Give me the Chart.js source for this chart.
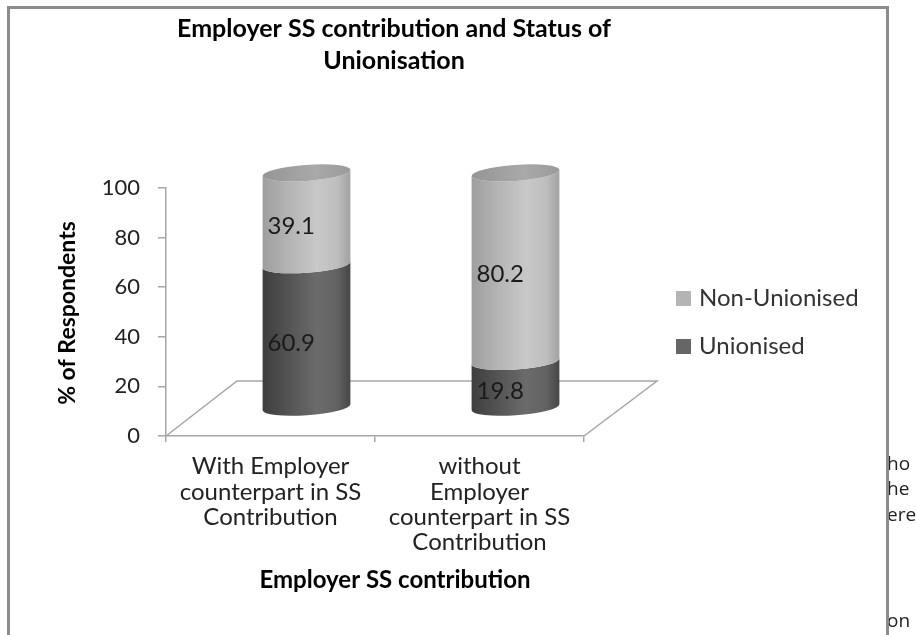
<!DOCTYPE html>
<html>
<head>
<meta charset="utf-8">
<script src="https://cdn.jsdelivr.net/npm/chart.js@4.4.0/dist/chart.umd.min.js"></script>
<style>
  body { margin: 0; background: #fff; }
  #mycanvas { display: block; }
</style>
</head>
<body>
<canvas id="mycanvas" width="916" height="635"></canvas>
<script>
// chart data
var categories = [
  ['With Employer', 'counterpart in SS', 'Contribution'],
  ['without', 'Employer', 'counterpart in SS', 'Contribution']
];
var seriesNames = ['Unionised', 'Non-Unionised'];
var unionised = [60.9, 19.8];
var nonUnionised = [39.1, 80.2];
var yTicks = [0, 20, 40, 60, 80, 100];

var chartTitle = ['Employer SS contribution and Status of', 'Unionisation'];
var xTitle = 'Employer SS contribution';
var yTitle = '% of Respondents';
var pageText = ['ho', 'he', 'ere', 'on'];

// look of the cylinders
var shades = [
  ['#3e3e3e', '#545454', '#6b6b6b', '#626262', '#464646'],
  ['#9e9e9e', '#b4b4b4', '#c8c8c8', '#bebebe', '#a2a2a2']
];
var swatch = ['#666666', '#b4b4b4'];
var FONT = 'Lato, "Open Sans", sans-serif';
var ROT = -0.07;

function cylinder(ctx, cx, yTop, yBot, r, ry, cols, cap) {
  var g = ctx.createLinearGradient(cx - r, 0, cx + r, 0);
  g.addColorStop(0, cols[0]);
  g.addColorStop(0.3, cols[1]);
  g.addColorStop(0.62, cols[2]);
  g.addColorStop(0.85, cols[3]);
  g.addColorStop(1, cols[4]);
  ctx.beginPath();
  ctx.ellipse(cx, yBot, r, ry, ROT, Math.PI, 0, true);
  ctx.ellipse(cx, yTop, r, ry, ROT, 0, Math.PI, false);
  ctx.closePath();
  ctx.fillStyle = g;
  ctx.fill();
  if (cap) {
    var c = ctx.createLinearGradient(cx - r, 0, cx + r, 0);
    c.addColorStop(0, '#959595');
    c.addColorStop(0.6, '#a9a9a9');
    c.addColorStop(1, '#9a9a9a');
    ctx.beginPath();
    ctx.ellipse(cx, yTop, r, ry, ROT, 0, Math.PI * 2);
    ctx.fillStyle = c;
    ctx.fill();
  }
}

var cylinders = {
  id: 'cylinders',
  beforeDraw: function(chart) {
    var ctx = chart.ctx, a = chart.chartArea;
    ctx.save();
    ctx.fillStyle = '#fff';
    ctx.fillRect(0, 0, chart.width, chart.height);
    // floor of the 3d plot
    ctx.strokeStyle = '#a6a6a6';
    ctx.lineWidth = 1.5;
    ctx.beginPath();
    ctx.moveTo(a.left, a.bottom);
    ctx.lineTo(a.left + 71, a.bottom - 55);
    ctx.lineTo(a.right + 73, a.bottom - 55);
    ctx.lineTo(a.right, a.bottom);
    ctx.stroke();
    ctx.restore();
  },
  afterDatasetsDraw: function(chart) {
    var ctx = chart.ctx;
    var ys = chart.scales.y;
    var zero = ys.getPixelForValue(0);
    function y3d(p) { return zero - 28 + (p - zero) * 0.948; }
    ctx.save();
    var n = chart.data.datasets.length;
    for (var d = 0; d < n; d++) {
      var meta = chart.getDatasetMeta(d);
      meta.data.forEach(function(bar, i) {
        var cx = bar.x + 36;
        cylinder(ctx, cx, y3d(bar.y), y3d(bar.base), 44, 8, shades[d], d === n - 1);
      });
    }
    ctx.font = '24px ' + FONT;
    ctx.fillStyle = '#1a1a1a';
    ctx.textAlign = 'left';
    ctx.textBaseline = 'middle';
    for (var d = 0; d < n; d++) {
      var meta = chart.getDatasetMeta(d);
      meta.data.forEach(function(bar, i) {
        var cx = bar.x + 36;
        var mid = y3d((bar.y + bar.base) / 2) + 7;
        ctx.fillText(String(chart.data.datasets[d].data[i]), cx - 39, mid);
      });
    }
    ctx.restore();
  },
  afterDraw: function(chart) {
    var ctx = chart.ctx;
    ctx.save();
    ctx.fillStyle = '#000';
    ctx.textAlign = 'center';
    ctx.textBaseline = 'middle';
    ctx.font = 'bold 25px ' + FONT;
    ctx.fillText(chartTitle[0], 394, 29);
    ctx.fillText(chartTitle[1], 394, 61);

    ctx.font = 'bold 24px ' + FONT;
    ctx.fillText(xTitle, 395, 580);
    ctx.font = 'bold 23px ' + FONT;
    ctx.save();
    ctx.translate(68, 313);
    ctx.rotate(-Math.PI / 2);
    ctx.fillText(yTitle, 0, 0);
    ctx.restore();

    // legend
    ctx.font = '24px ' + FONT;
    ctx.textAlign = 'left';
    var ly = 298;
    for (var k = seriesNames.length - 1; k >= 0; k--) {
      ctx.fillStyle = swatch[k];
      ctx.fillRect(676, ly - 7, 15, 15);
      ctx.fillStyle = '#333';
      ctx.fillText(seriesNames[k], 699, ly);
      ly += 48;
    }

    // bits of the page text behind the chart
    ctx.font = '19px "Open Sans", sans-serif';
    ctx.fillStyle = '#222';
    var py = [465, 490, 516, 622];
    pageText.forEach(function(t, k) { ctx.fillText(t, 887, py[k]); });
    ctx.fillStyle = '#fff';
    ctx.fillRect(880, 0, 8, 635);

    // chart frame
    ctx.strokeStyle = '#8c8c8c';
    ctx.lineWidth = 3;
    ctx.beginPath();
    ctx.moveTo(8.5, 640);
    ctx.lineTo(8.5, 7.5);
    ctx.lineTo(887.5, 7.5);
    ctx.lineTo(887.5, 640);
    ctx.stroke();
    ctx.restore();
  }
};

var ctx = document.getElementById('mycanvas');
var chart = new Chart(ctx, {
  type: 'bar',
  data: {
    labels: categories,
    datasets: [
      { label: seriesNames[0], data: unionised, backgroundColor: 'rgba(0,0,0,0)' },
      { label: seriesNames[1], data: nonUnionised, backgroundColor: 'rgba(0,0,0,0)' }
    ]
  },
  options: {
    responsive: false,
    animation: false,
    layout: { padding: { top: 188, right: 332, left: 0, bottom: 0 } },
    plugins: { legend: { display: false }, title: { display: false }, tooltip: { enabled: false } },
    scales: {
      x: {
        stacked: true,
        grid: { offset: true, drawOnChartArea: false, tickLength: 6, color: '#a6a6a6', lineWidth: 1.5 },
        border: { color: '#a6a6a6', width: 1.5 },
        ticks: { padding: 12, color: '#222', font: { family: FONT, size: 24, lineHeight: 1.05 }, maxRotation: 0, autoSkip: false },
        afterFit: function(s) { s.height = 199; }
      },
      y: {
        stacked: true,
        min: yTicks[0],
        max: yTicks[yTicks.length - 1],
        afterBuildTicks: function(s) { s.ticks = yTicks.map(function(v) { return { value: v }; }); },
        grid: { drawOnChartArea: false, tickLength: 8, color: '#a6a6a6', lineWidth: 1.5 },
        border: { color: '#a6a6a6', width: 1.5 },
        ticks: { padding: 18, color: '#222', font: { family: FONT, size: 22 } },
        afterFit: function(s) { s.width = 166; }
      }
    }
  },
  plugins: [cylinders]
});
</script>
</body>
</html>
